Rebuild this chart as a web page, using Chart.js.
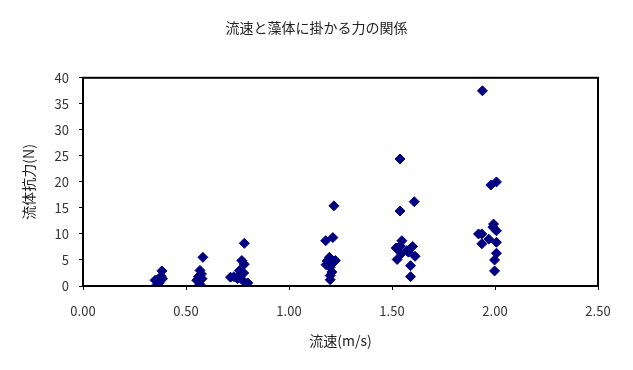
<!DOCTYPE html>
<html>
<head>
<meta charset="utf-8">
<script src="https://cdn.jsdelivr.net/npm/chart.js@4.4.1/dist/chart.umd.min.js"></script>
<style>
  html, body { margin: 0; padding: 0; background: #fff; }
  #wrap { width: 633px; height: 370px; }
</style>
</head>
<body>
<div id="wrap"><canvas id="chart" width="633" height="370"></canvas></div>
<script>
const chartTitle = '流速と藻体に掛かる力の関係';
const xTitle = '流速(m/s)';
const yTitle = '流体抗力(N)';

const xTicks = [0, 0.5, 1.0, 1.5, 2.0, 2.5];
const yTicks = [0, 5, 10, 15, 20, 25, 30, 35, 40];

// flow speed (m/s)
const speeds = [
  0.383, 0.36, 0.36, 0.386, 0.35, 0.37, 0.38,
  0.582, 0.568, 0.575, 0.56, 0.578, 0.552, 0.568,
  0.783, 0.771, 0.783, 0.76, 0.733, 0.765, 0.78, 0.75, 0.775, 0.80, 0.716,
  1.218, 1.178, 1.213, 1.196, 1.185, 1.218, 1.18, 1.20, 1.208, 1.20, 1.20, 1.225,
  1.539, 1.539, 1.608, 1.52, 1.548, 1.525, 1.545, 1.572, 1.60, 1.612, 1.59, 1.59, 1.54, 1.58,
  1.939, 1.98, 2.007, 1.92, 1.936, 1.993, 2.007, 1.936, 1.97, 2.007, 2.007, 1.998, 1.998, 1.99
];

// drag force (N)
const forces = [
  2.9, 1.1, 0.3, 1.4, 1.1, 0.6, 1.9,
  5.5, 3.0, 2.3, 1.8, 1.4, 1.1, 0.3,
  8.2, 4.9, 4.2, 3.0, 1.8, 2.3, 2.5, 1.4, 1.1, 0.6, 1.7,
  15.4, 8.7, 9.3, 5.5, 4.8, 4.6, 4.1, 3.6, 2.7, 2.0, 1.2, 4.9,
  24.4, 14.4, 16.2, 7.3, 8.7, 5.1, 6.2, 6.8, 7.6, 5.7, 3.9, 1.8, 7.7, 6.5,
  37.5, 19.4, 20.0, 10.0, 10.0, 11.9, 10.6, 8.1, 9.0, 8.4, 6.3, 5.0, 2.9, 11.3
];

const points = speeds.map((s, i) => ({ x: s, y: forces[i] }));

const frame = {
  id: 'frame',
  afterDatasetsDraw(chart) {
    const { ctx, chartArea: a } = chart;
    ctx.save();
    ctx.strokeStyle = '#000';
    ctx.lineWidth = 2;
    ctx.strokeRect(a.left, a.top, a.right - a.left, a.bottom - a.top);
    ctx.restore();
  }
};

const cjk = '"Noto Sans CJK JP", sans-serif';
const tickFont = { family: cjk, size: 13 };

new Chart(document.getElementById('chart'), {
  type: 'scatter',
  data: {
    datasets: [{
      data: points,
      pointStyle: 'rectRot',
      radius: 5,
      hoverRadius: 5,
      backgroundColor: '#000080',
      borderColor: '#000080',
      borderWidth: 1
    }]
  },
  options: {
    responsive: false,
    animation: false,
    layout: { padding: 0 },
    plugins: {
      legend: { display: false },
      tooltip: { enabled: false },
      title: {
        display: true,
        text: chartTitle,
        color: '#222',
        font: { family: cjk, size: 14, weight: 'normal' },
        padding: { top: 19, bottom: 42 }
      }
    },
    scales: {
      x: {
        type: 'linear',
        min: 0,
        max: 2.5,
        afterBuildTicks: (axis) => { axis.ticks = xTicks.map((v) => ({ value: v })); },
        afterFit: (axis) => { axis.height = 84; },
        ticks: {
          color: '#333',
          font: tickFont,
          padding: 13,
          callback: (v) => v.toFixed(2)
        },
        grid: { drawOnChartArea: false, tickLength: 4, color: '#000' },
        border: { color: '#000', width: 2 },
        title: {
          display: true,
          text: xTitle,
          color: '#222',
          font: { family: cjk, size: 14 },
          padding: { top: 4, bottom: 21 }
        }
      },
      y: {
        min: 0,
        max: 40,
        afterBuildTicks: (axis) => { axis.ticks = yTicks.map((v) => ({ value: v })); },
        afterFit: (axis) => { axis.width = 83; },
        ticks: { color: '#333', font: tickFont, padding: 10 },
        grid: { drawOnChartArea: false, tickLength: 4, color: '#000' },
        border: { color: '#000', width: 2 },
        title: {
          display: true,
          text: yTitle,
          color: '#222',
          font: { family: cjk, size: 14 },
          padding: { top: 20, bottom: 4 }
        }
      },
      // empty right-hand strip so the plot ends where the reference does
      spacer: {
        position: 'right',
        afterFit: (axis) => { axis.width = 35; },
        ticks: { display: false },
        grid: { display: false },
        border: { display: false }
      }
    }
  },
  plugins: [frame]
});
</script>
</body>
</html>
